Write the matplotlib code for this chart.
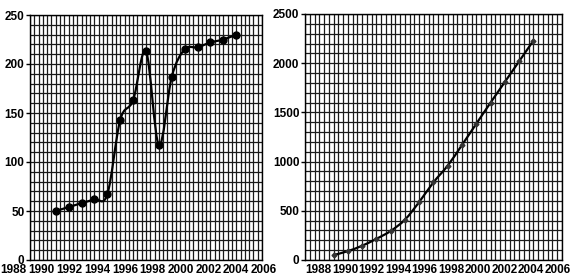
import numpy as np
import matplotlib
matplotlib.use("Agg")
import matplotlib.pyplot as plt
from matplotlib.path import Path
from matplotlib.patches import PathPatch

years = list(range(1990, 2005))
left_values = [50, 54, 58, 62, 67, 143, 163, 213, 117, 187, 215, 217, 222, 225, 230]
right_values = [50, 90, 145, 215, 295, 410, 590, 790, 960, 1170, 1385, 1600, 1810, 2020, 2230]
xtick_years = list(range(1988, 2007, 2))
left_yticks = [0, 50, 100, 150, 200, 250]
right_yticks = [0, 500, 1000, 1500, 2000, 2500]

FONT = "Liberation Sans"


def smooth_path(xs, ys):
    pts = np.column_stack([xs, ys]).astype(float)
    n = len(pts)
    verts = [pts[0]]
    codes = [Path.MOVETO]
    for i in range(n - 1):
        p0 = pts[i - 1] if i > 0 else pts[i]
        p1 = pts[i]
        p2 = pts[i + 1]
        p3 = pts[i + 2] if i + 2 < n else pts[i + 1]
        c1 = p1 + (p2 - p0) / 6.0
        c2 = p2 - (p3 - p1) / 6.0
        verts += [c1, c2, p2]
        codes += [Path.CURVE4] * 3
    return Path(verts, codes)


def setup(ax, ymax, ystep, yticks, lab_start, lab_end):
    ax.set_xlim(1988, 2006)
    ax.set_ylim(0, ymax)
    ax.set_xticks(np.arange(1988, 2006.01, 1 / 3), minor=True)
    ax.set_yticks(np.arange(0, ymax + 0.1, ystep), minor=True)
    ax.set_xticks(xtick_years)
    ax.set_xticklabels([])
    ax.set_yticks(yticks)
    ax.set_yticklabels([str(v) for v in yticks])
    ax.grid(True, which="both", color="#1a1a1a", linewidth=0.9)
    ax.set_axisbelow(True)
    ax.tick_params(axis="x", which="both", length=0)
    ax.tick_params(axis="y", which="minor", length=0)
    ax.tick_params(axis="y", which="major", length=3, width=1, pad=1)
    for lab in ax.get_yticklabels():
        lab.set_fontfamily(FONT)
        lab.set_fontweight("bold")
        lab.set_fontsize(8.5)
    # year labels, spread as in the scanned original
    for yr in xtick_years:
        fx = lab_start + (yr - 1988) / 18.0 * (lab_end - lab_start)
        ax.text(fx, -0.042, str(yr), transform=ax.transAxes,
                ha="center", va="center", fontfamily=FONT,
                fontweight="bold", fontsize=8.5, clip_on=False)
    for s in ax.spines.values():
        s.set_color("black")
        s.set_linewidth(1.0)


fig = plt.figure(figsize=(5.72, 2.80), dpi=100)
ax1 = fig.add_axes([30 / 572, 20 / 280, 232 / 572, 245 / 280])
ax2 = fig.add_axes([305 / 572, 20 / 280, 257 / 572, 246 / 280])

setup(ax1, 250, 10, left_yticks, -0.070, 1.008)
setup(ax2, 2500, 100, right_yticks, 0.052, 0.982)

ax1.add_patch(PathPatch(smooth_path(years, left_values), fill=False,
                        edgecolor="black", linewidth=1.6, zorder=3))
ax1.plot(years, left_values, linestyle="none", marker="o", markersize=5,
         color="black", zorder=4)

ax2.add_patch(PathPatch(smooth_path(years, right_values), fill=False,
                        edgecolor="black", linewidth=1.6, zorder=3))
ax2.plot(years, right_values, linestyle="none", marker="D", markersize=2.5,
         color="#333333", zorder=4)

fig.savefig("out.png", dpi=100)
